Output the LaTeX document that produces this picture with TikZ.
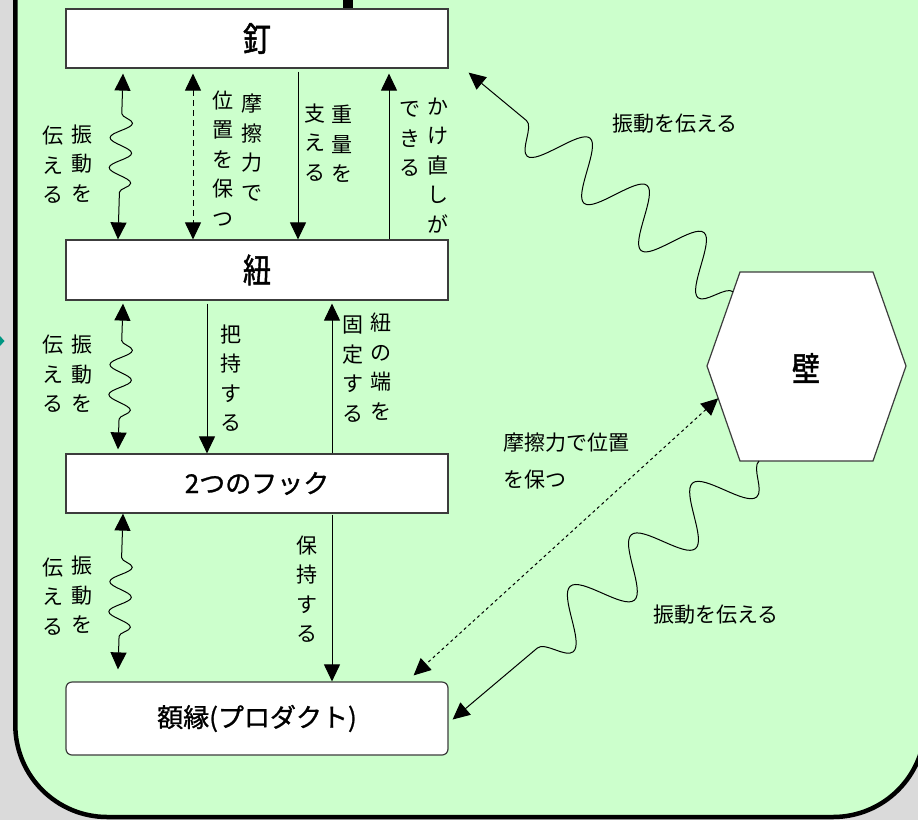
\documentclass[tikz,border=0pt]{standalone}
\usepackage{fontspec}
\usepackage{graphicx}
\usetikzlibrary{arrows.meta,decorations.pathmorphing,calc}
\newfontfamily\jp{Noto Sans CJK JP}
\newfontfamily\jpb[FakeBold=1.5]{Noto Sans CJK JP}
\newfontfamily\jpm[FakeBold=1]{Noto Sans CJK JP}
\definecolor{panelgreen}{RGB}{204,255,204}
\definecolor{bggray}{RGB}{218,218,218}
\definecolor{boxline}{RGB}{60,60,60}
\definecolor{tealmark}{RGB}{0,150,130}
\newcommand{\bigkanji}[1]{\scalebox{1}[1.2]{\jpb\fontsize{28}{28}\selectfont #1}}
\begin{document}
\begin{tikzpicture}[x=1pt,y=-1pt,
  box/.style={draw=boxline, line width=1.2pt, fill=white, minimum width=382pt, inner sep=0pt,
              font=\jpm\fontsize{26}{26}\selectfont},
  vlab/.style={font=\jp\fontsize{21}{29.5}\selectfont, align=center, inner sep=0pt},
  hlab/.style={font=\jp\fontsize{21}{37}\selectfont, inner sep=0pt},
  arrone/.style={line width=1pt, -{Triangle[length=17pt,width=16pt]}},
  arrtwo/.style={line width=1pt, {Triangle[length=17pt,width=16pt]}-{Triangle[length=17pt,width=16pt]}},
  wavyL/.style={arrtwo, decorate, decoration={snake, segment length=30pt, amplitude=11pt}},
  dashtwo/.style={arrtwo, dash pattern=on 6pt off 4pt},
  dottwo/.style={arrtwo, dash pattern=on 3pt off 3pt}
]
\useasboundingbox (0,0) rectangle (918,820);
\fill[bggray] (0,0) rectangle (918,820);
\draw[line width=4.5pt, fill=panelgreen, rounded corners=92pt]
  (15.3,-120) -- (15.3,817) -- (925,817) -- (925,-120);
\fill[tealmark] (0,336) -- (4.5,341) -- (0,346) -- cycle;

% boxes
\node[box, minimum height=59pt] (nail) at (257,38.5) {\bigkanji{釘}};
\node[box, minimum height=60pt] (string) at (257,270) {\bigkanji{紐}};
\node[box, minimum height=59pt] (hook) at (257,483.5) {2つのフック};
\node[box, minimum height=73pt, rounded corners=6pt] (frame) at (257,718.5) {額縁(プロダクト)};

% top bar
\coordinate (topend) at (348,-5);
\draw[line width=10pt] (topend) -- (topend |- nail.north);

% hexagon wall
\coordinate (h1) at (740,272);
\coordinate (h2) at (873,272);
\coordinate (h3) at (906,366);
\coordinate (h4) at (873,461);
\coordinate (h5) at (740,461);
\coordinate (h6) at (707,366);
\draw[draw=boxline, line width=1.2pt, fill=white] (h1) -- (h2) -- (h3) -- (h4) -- (h5) -- (h6) -- cycle;
\node[inner sep=0pt] (wall) at (806,368) {\bigkanji{壁}};
\coordinate (wA) at ($(h1)!0.21!(h6)$);
\coordinate (wB) at ($(h6)!0.34!(h5)$);
\coordinate (wC) at ($(h5)!0.143!(h4)$);

% section 1 arrows
\draw[wavyL, decoration={pre length=40pt, post length=35pt}]
  ($(nail.south)+(-134,5)$) -- ($(string.north)+(-139,0)$);
\draw[dashtwo] ($(nail.south)+(-64,5)$) -- ($(string.north)+(-64,0)$);
\draw[arrone] ($(nail.south)+(41,3)$) -- ($(string.north)+(41,0)$);
\draw[arrone] ($(string.north)+(132,0)$) -- ($(nail.south)+(132,5)$);

% section 2 arrows
\draw[wavyL, decoration={pre length=37pt, post length=20pt}]
  ($(string.south)+(-134,3)$) -- ($(hook.north)+(-139,-4)$);
\draw[arrone] ($(string.south)+(-50,3)$) -- ($(hook.north)+(-50,0)$);
\draw[arrone] ($(hook.north)+(75,0)$) -- ($(string.south)+(75,3)$);

% section 3 arrows
\draw[wavyL, decoration={pre length=44pt, post length=20pt}]
  ($(hook.south)+(-134,0)$) -- ($(frame.north)+(-139,-12)$);
\draw[arrone] ($(hook.south)+(75,1)$) -- ($(frame.north)+(75,0)$);

% right side connectors
\draw[arrone, decorate, decoration={snake, segment length=74pt, amplitude=27pt, pre length=0pt, post length=48pt}]
  (wA) -- ($(nail.south east)+(20,4)$);
\draw[dottwo] (wB) -- ($(frame.north east)+(-35,-6)$);
\draw[arrone, decorate, decoration={snake, segment length=80pt, amplitude=26pt, pre length=0pt, post length=80pt}]
  (wC) -- ($(frame.east)+(4,1)$);

% vertical labels section 1
\node[vlab] (l1a) at (82,163.5) {振\\動\\を};
\node[vlab] (l1b) at (53,165) {伝\\え\\る};
\node[vlab] (l1c) at (252,147.5) {摩\\擦\\力\\で};
\node[vlab] (l1d) at (223,158.5) {位\\置\\を\\保\\つ};
\node[vlab] (l1e) at (342,144) {重\\量\\を};
\node[vlab] (l1f) at (315,142.5) {支\\え\\る};
\node[vlab] (l1g) at (438,165.5) {か\\け\\直\\し\\が};
\node[vlab] (l1h) at (410,139) {で\\き\\る};
% section 2
\node[vlab] (l2a) at (82,374) {振\\動\\を};
\node[vlab] (l2b) at (53,374) {伝\\え\\る};
\node[vlab] (l2c) at (231,378) {把\\持\\す\\る};
\node[vlab] (l2d) at (381,366.7) {紐\\の\\端\\を};
\node[vlab] (l2e) at (353,369) {固\\定\\す\\る};
% section 3
\node[vlab] (l3a) at (82,595) {振\\動\\を};
\node[vlab] (l3b) at (53,596.5) {伝\\え\\る};
\node[vlab] (l3c) at (307,589) {保\\持\\す\\る};

% horizontal labels
\node[hlab] (lt) at (675,124) {振動を伝える};
\node[hlab] (lb) at (716,615) {振動を伝える};
\node[hlab, anchor=north west, align=left] (lm) at (503,433) {摩擦力で位置\\を保つ};
\end{tikzpicture}
\end{document}
